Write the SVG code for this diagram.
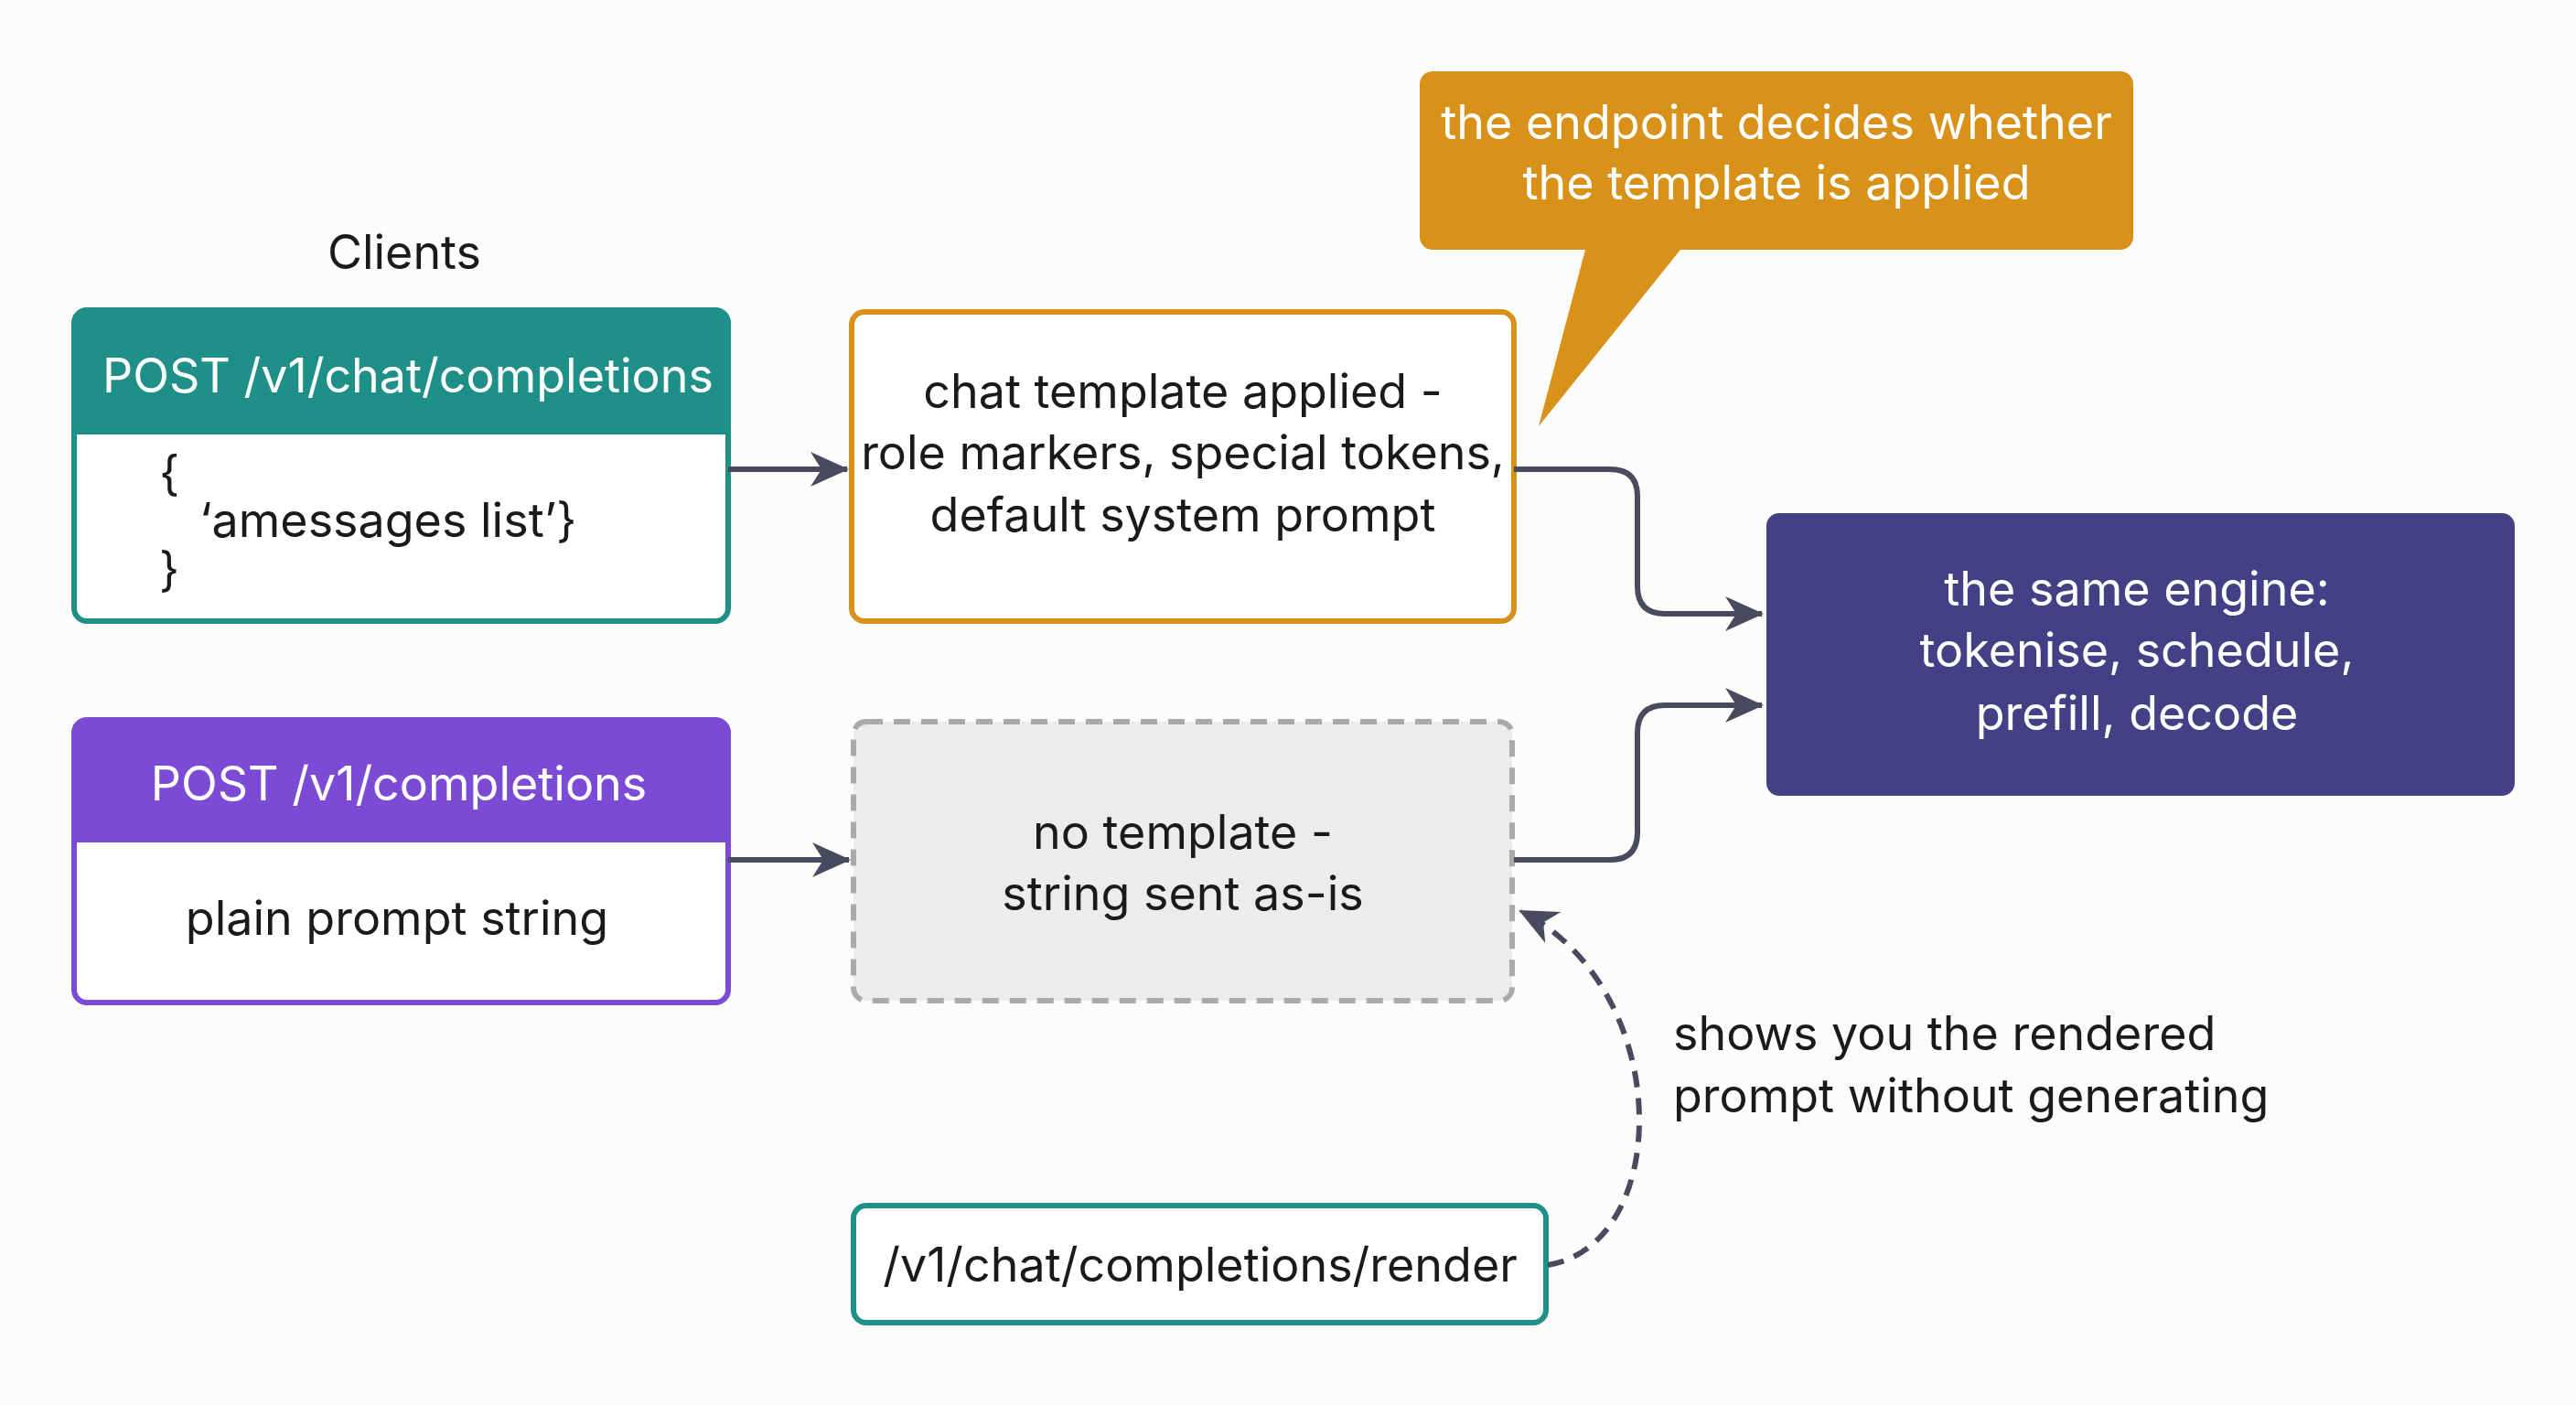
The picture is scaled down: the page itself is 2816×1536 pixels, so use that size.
<svg xmlns="http://www.w3.org/2000/svg" width="2816" height="1536" viewBox="0 0 2816 1536">
<style>
text{font-family:Inter,"Noto Sans",sans-serif;font-size:52px;fill:#1a1a1a;text-anchor:middle}
.w{fill:#fff}
.l{text-anchor:start}
.c{fill:none;stroke:#4a4a5e;stroke-width:6}
</style>
<defs>
<marker id="a" viewBox="0 0 10 10" refX="9" refY="5" markerWidth="7" markerHeight="7" markerUnits="userSpaceOnUse" orient="auto" style="overflow:visible">
<path d="M0,0 L10,5 L0,10 L3,5 z" fill="#4a4a5e" transform="scale(4.5) translate(-2,-5) translate(0,5)"/>
</marker>
<marker id="m" markerWidth="46" markerHeight="46" refX="40" refY="23" orient="auto" markerUnits="userSpaceOnUse">
<path d="M0,4 L42,23 L0,42 L12,23 z" fill="#4a4a5e"/>
</marker>
</defs>
<rect width="2816" height="1536" fill="#fcfcfb"/>
<text x="442" y="294">Clients</text>
<g id="chat">
<rect x="81" y="339" width="715" height="340" rx="14" fill="#fff" stroke="#1f9088" stroke-width="6"/>
<path d="M81,475 V353 a14,14 0 0 1 14,-14 H782 a14,14 0 0 1 14,14 V475 z" fill="#1f9088"/>
<text class="w" x="446" y="429">POST /v1/chat/completions</text>
<text class="l" x="174" y="536">{</text>
<text class="l" x="218" y="587">‘amessages list’}</text>
<text class="l" x="174" y="641">}</text>
</g>
<g id="comp">
<rect x="81" y="787" width="715" height="309" rx="14" fill="#fff" stroke="#7b4bd6" stroke-width="6"/>
<path d="M81,921 V801 a14,14 0 0 1 14,-14 H782 a14,14 0 0 1 14,14 V921 z" fill="#7b4bd6"/>
<text class="w" x="436" y="875">POST /v1/completions</text>
<text x="434" y="1022">plain prompt string</text>
</g>
<g id="tmpl">
<rect x="931" y="341" width="724" height="338" rx="14" fill="#fff" stroke="#d8921a" stroke-width="6"/>
<text x="1293" y="446">chat template applied -</text>
<text x="1293" y="513">role markers, special tokens,</text>
<text x="1293" y="581">default system prompt</text>
</g>
<g id="notmpl">
<rect x="933" y="789" width="720" height="305" rx="14" fill="#ececeb" stroke="#aaaaaa" stroke-width="6" stroke-dasharray="18 12"/>
<text x="1293" y="928">no template -</text>
<text x="1293" y="995">string sent as-is</text>
</g>
<g id="engine">
<rect x="1931" y="561" width="818" height="309" rx="14" fill="#453f86"/>
<text class="w" x="2336" y="662">the same engine:</text>
<text class="w" x="2336" y="729">tokenise, schedule,</text>
<text class="w" x="2336" y="798">prefill, decode</text>
</g>
<g id="callout">
<path d="M1566,78 H2318 a14,14 0 0 1 14,14 V259 a14,14 0 0 1 -14,14 H1837 L1682,466 L1733,273 H1566 a14,14 0 0 1 -14,-14 V92 a14,14 0 0 1 14,-14 z" fill="#d8921a"/>
<text class="w" x="1942" y="152">the endpoint decides whether</text>
<text class="w" x="1942" y="218">the template is applied</text>
</g>
<g id="render">
<rect x="933" y="1318" width="757" height="128" rx="14" fill="#fff" stroke="#1f9088" stroke-width="6"/>
<text x="1312" y="1401">/v1/chat/completions/render</text>
</g>
<text class="l" x="1829" y="1148">shows you the rendered</text>
<text class="l" x="1829" y="1216">prompt without generating</text>
<g id="connectors">
<path class="c" d="M796,513 H926" marker-end="url(#m)"/>
<path class="c" d="M796,940 H928" marker-end="url(#m)"/>
<path class="c" d="M1655,513 H1760 Q1790,513 1790,543 V641 Q1790,671 1820,671 H1926" marker-end="url(#m)"/>
<path class="c" d="M1655,940 H1760 Q1790,940 1790,910 V801 Q1790,771 1820,771 H1926" marker-end="url(#m)"/>
<path class="c" d="M1692,1383 C1830,1360 1830,1080 1662,996" stroke-dasharray="18 12" marker-end="url(#m)"/>
</g>
</svg>
